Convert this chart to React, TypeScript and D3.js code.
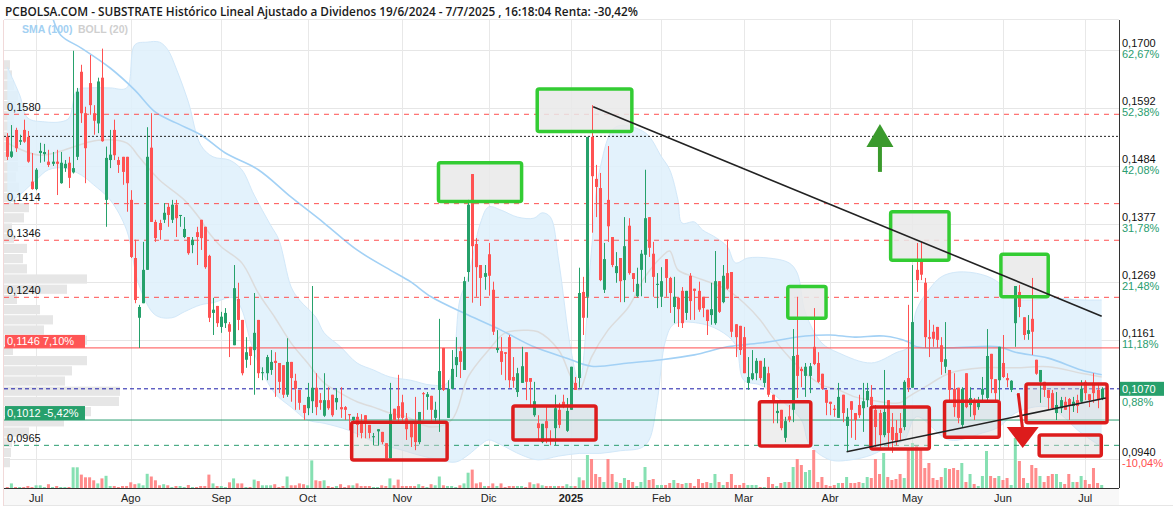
import React from 'react';
import * as d3 from 'd3';

const W = 1173;
const H = 512;
const PL = 4, PR = 1119, PT = 20, PB = 488;

// Prices x 10^4, one entry per trading session (19/6/2024 - 7/7/2025)
const opens = [1538,1501,1551,1529,1551,1538,1455,1441,1508,1506,1492,1488,1492,1452,1480,1490,1472,1501,1659,1582,1638,1582,1563,1648,1421,1495,1551,1495,1501,1501,1421,1313,1202,1229,1291,1518,1380,1378,1384,1408,1384,1412,1391,1352,1352,
1337,1361,1384,1371,1317,1211,1224,1185,1192,1190,1151,1237,1198,1124,1148,1142,1198,1099,1099,1105,1122,1118,1114,1059,1120,1085,1068,1040,1034,1047,1072,1049,1020,1049,1059,1045,1036,1036,1023,1012,1018,1008,1021,1003,980,991,990,969,941,1033,1038,1045,1015,
1006,1006,971,1062,1055,1057,1016,1068,1146,1016,1070,1114,1140,1105,1287,1469,1339,1300,1278,1320,1254,1142,1140,1138,1166,1092,1064,1081,1138,1090,1021,1006,971,1010,977,997,1031,1046,992,1031,1081,1090,1250,
1241,1538,1460,1443,1254,1421,1352,1285,1313,1272,1373,1285,1242,1291,1319,1389,1321,1263,1241,1311,1276,1222,1239,1252,1211,1280,1256,1252,1241,1217,1207,1192,1270,1231,1285,1287,1190,1187,1166,1081,1088,1099,
1122,1081,1099,1059,1025,1031,979,1019,1031,1133,1107,1094,1094,1148,1118,1098,1068,1046,1033,1016,1059,1001,1047,1025,1040,1034,1049,1055,
1031,1025,984,1049,999,988,997,999,1090,1072,1291,1306,1267,1166,1176,1185,1151,1111,1105,1070,1072,1003,1099,1040,1044,1036,1059,1053,1135,1088,1086,1118,1090,1068,1192,1250,1203,1172,1200,1124,1083,1083,1068,1062,1025,1034,1046,1051,1038,1049,1046,1083,1060,1081,1068,1051];
const highs = [1545,1560,1555,1542,1570,1549,1508,1480,1527,1525,1514,1510,1514,1510,1495,1501,1698,1629,1672,1594,1690,1597,1648,1702,1520,1551,1570,1501,1501,1501,1439,1347,1226,1343,1556,1582,1384,1384,1415,1415,1421,1421,1393,1389,1352,
1352,1371,1384,1371,1319,1239,1224,1213,1220,1194,1300,1267,1198,1166,1148,1248,1198,1110,1133,1142,1138,1118,1114,1164,1120,1098,1068,1040,1081,1261,1099,1062,1099,1073,1059,1071,1073,1038,1023,1018,1025,1023,1021,1003,988,995,990,969,1081,1033,1096,1059,1025,
1006,1055,1027,1064,1064,1057,1046,1200,1146,1086,1142,1166,1148,1278,1421,1469,1350,1300,1300,1341,1269,1179,1166,1138,1170,1129,1109,1148,1138,1090,1083,1021,1005,1036,993,1059,1044,1059,1053,1111,1092,1295,1278,
1538,1597,1486,1471,1341,1521,1352,1324,1313,1389,1387,1285,1295,1328,1477,1389,1343,1285,1296,1311,1278,1278,1239,1259,1252,1285,1256,1269,1241,1217,1267,1326,1270,1300,1347,1287,1190,1187,1185,1129,1142,1127,
1122,1127,1111,1059,1049,1031,1018,1040,1181,1241,1111,1118,1118,1220,1138,1098,1068,1046,1040,1081,1059,1034,1047,1025,1059,1081,1081,1077,
1040,1031,1105,1049,1025,1012,1025,1086,1226,1300,1341,1343,1276,1198,1189,1185,1166,1194,1105,1099,1072,1073,1099,1073,1053,1055,1092,1181,1135,1088,1148,1170,1099,1086,1261,1263,1203,1207,1276,1124,1105,1083,1068,1068,1064,1055,1055,1053,1055,1059,1086,1086,1060,1099,1081,1073];
const lows = [1495,1499,1510,1523,1527,1490,1440,1439,1490,1492,1482,1484,1430,1451,1473,1443,1470,1495,1564,1452,1579,1542,1545,1529,1371,1480,1495,1471,1449,1399,1313,1229,1146,1229,1291,1380,1343,1347,1378,1371,1378,1352,1371,1350,1319,
1322,1300,1328,1293,1194,1170,1185,1174,1183,1129,1151,1179,1095,1109,1114,1059,1090,1086,1086,1096,1055,1062,1053,1055,1046,1031,1031,1012,1021,1025,1021,1031,1018,1031,1018,1031,1016,1012,993,1006,980,978,978,978,965,965,967,941,941,1012,1008,1006,975,
962,956,967,1012,1031,1006,1006,990,1066,1016,1070,1092,1090,1105,1269,1230,1241,1224,1254,1243,1170,1137,1096,1086,1072,1072,1055,1081,1049,1036,1018,975,969,969,965,965,997,1034,990,1031,1068,1072,1170,
1202,1360,1389,1270,1248,1343,1296,1267,1231,1231,1282,1250,1240,1242,1267,1315,1241,1220,1222,1241,1211,1192,1185,1183,1198,1198,1198,1213,1203,1170,1189,1189,1211,1229,1254,1166,1129,1133,1099,1068,1086,1086,
1086,1073,1055,1006,1006,993,971,1008,1008,1053,1073,1055,1062,1114,1081,1068,1021,1021,1018,1016,1008,953,979,975,1016,990,1036,1021,
962,960,980,960,951,965,975,993,1064,1072,1250,1272,1146,1129,1148,1146,1096,1099,1044,1018,1006,999,1034,1018,1012,1031,1044,1049,1062,1049,1049,1090,1073,1064,1148,1203,1161,1161,1133,1096,1044,1055,1031,1031,1012,1025,1031,1012,1027,1025,1044,1049,1036,1044,1034,1049];
const closes = [1501,1511,1517,1532,1529,1492,1441,1477,1512,1510,1486,1492,1488,1490,1488,1462,1480,1622,1582,1517,1597,1568,1641,1530,1499,1505,1504,1486,1473,1452,1315,1235,1222,1291,1501,1380,1350,1365,1397,1393,1412,1387,1393,1367,1322,
1347,1352,1350,1296,1202,1217,1192,1204,1211,1176,1257,1198,1099,1138,1131,1174,1099,1101,1129,1120,1118,1083,1059,1120,1090,1070,1044,1025,1055,1072,1036,1044,1049,1034,1021,1053,1032,1031,1021,1018,1003,988,1006,988,982,995,971,941,1023,1012,1016,1016,995,
980,971,1027,1060,1060,1031,1031,1103,1068,1070,1107,1129,1120,1270,1412,1335,1296,1276,1285,1280,1176,1146,1120,1135,1086,1085,1099,1112,1083,1083,1047,997,1005,997,975,1034,1003,1036,1029,1111,1068,1248,1202,
1538,1465,1445,1272,1311,1372,1300,1298,1270,1335,1285,1274,1265,1321,1387,1332,1278,1265,1270,1276,1248,1241,1218,1192,1252,1233,1252,1217,1220,1196,1218,1270,1213,1280,1256,1176,1166,1142,1099,1092,1099,1122,
1090,1111,1059,1046,1029,997,1010,1012,1131,1094,1103,1111,1112,1116,1083,1070,1044,1042,1031,1055,1025,1018,1031,1012,1021,1047,1066,1040,
999,984,1027,988,975,971,988,1083,1072,1194,1272,1282,1166,1163,1163,1161,1120,1125,1068,1036,1016,1070,1036,1053,1021,1046,1070,1131,1088,1062,1148,1092,1086,1085,1261,1222,1170,1179,1176,1098,1105,1068,1053,1034,1040,1049,1031,1040,1046,1038,1070,1062,1049,1062,1049,1070];
const volumes = [1,4.6,1,1,1,2,1,2.7,2.7,1,3.8,1,2,1,1,1,20.7,20.7,13.4,10.7,10.7,7.7,4.6,9.6,12.2,2,2,1,2,2,5.7,3.8,4.6,2.7,14.2,11.5,7.7,2.7,3.8,2.7,1,2,2,1,3,1,1,2,2,13.4,
4.6,2,2,1,5.7,9.6,4.6,4.6,1,1,8.4,6.9,2.7,2.7,2.7,3.8,1,2,11.5,2.7,2.7,4.6,3.8,2.7,27.6,7.7,6.9,7.7,2,1,2,3.8,1,2.7,2.7,4.6,2,2,2,1,1,2.7,2,9.6,2.7,8.4,2,2,2,2,
3.8,2,1,3.8,2.7,11.5,2.7,2,2,1,2.7,4.6,15.3,18.4,4.6,5.7,2,2,4.6,2,4.6,1,2,2,2,2,1,5.7,3.8,4.6,2.7,2,2,2,2,2,3.8,2,2,10.7,7.7,33,29,14,11,6,29,14,6,5,
10,8,6,2,6,21,8,9,3,3,3,5,8,5,4,5,5,2,9,5,6,5,14,6,3,6,14,3,3,5,3,3,3,1,1,11,4,2,5,6,6,21,29,23,16,18,38,6,11,3,
2,3,5,5,11,5,5,6,5,11,10,29,14,35,11,8,9,14,10,40,45,42,40,20,25,10,8,11,20,19,20,18,25,6,14,4,2,12,37,12,10,12,8,10,3,50,27,10,5,23,
20,12,6,12,14,14,6,4,14,6,6,12,8,4,20,5,3];

// Indicator readings [session index, price x 10^4]
const smaPts = [[11,1760],[13,1727],[18,1703],[25,1666],[31,1625],[36,1584],[41,1564],[47,1542],[53,1508],[61,1477],[69,1426],[77,1378],[85,1328],[93,1291],[98,1269],[103,1241],[112,1207],[120,1179],[128,1148],[136,1127],[142,1112],[151,1118],[159,1124],[167,1133],[175,1148],[183,1155],[194,1168],[200,1170],[206,1166],[213,1168],[219,1157],[221,1148],[229,1146],[241,1148],[245,1138],[253,1127],[261,1105],[266,1096]];
const bbUpperPts = [[0,1668],[3,1616],[5,1573],[9,1566],[13,1566],[15,1573],[17,1625],[20,1629],[25,1629],[29,1629],[31,1709],[34,1714],[37,1714],[39,1700],[41,1666],[44,1603],[47,1523],[50,1501],[54,1495],[57,1477],[60,1430],[64,1374],[66,1347],[69,1259],[71,1235],[75,1203],[77,1174],[81,1148],[85,1118],[89,1105],[93,1092],[98,1086],[103,1077],[107,1081],[110,1235],[112,1278],[115,1378],[117,1408],[120,1402],[124,1389],[128,1387],[130,1397],[132,1389],[134,1309],[137,1142],[139,1081],[142,1328],[144,1477],[148,1557],[155,1546],[159,1501],[161,1477],[163,1421],[164,1378],[167,1380],[169,1365],[172,1352],[175,1334],[177,1304],[180,1313],[185,1313],[190,1304],[192,1285],[194,1211],[198,1155],[202,1137],[210,1118],[216,1137],[219,1148],[221,1217],[224,1254],[227,1278],[231,1287],[237,1282],[241,1267],[244,1239],[249,1235],[253,1239],[261,1235],[266,1235]];
const bbLowerPts = [[0,1412],[3,1430],[7,1458],[10,1477],[14,1480],[18,1467],[21,1449],[25,1421],[29,1365],[32,1263],[36,1207],[40,1202],[43,1213],[47,1226],[50,1230],[55,1239],[57,1217],[59,1161],[61,1118],[65,1062],[69,1036],[73,1012],[77,1006],[83,993],[90,969],[96,956],[100,947],[105,938],[109,934],[112,947],[115,966],[117,975],[120,966],[125,947],[129,938],[134,945],[139,950],[144,950],[149,955],[154,960],[156,975],[158,1049],[160,1160],[162,1190],[168,1192],[173,1179],[177,1152],[179,1086],[183,1077],[188,1049],[193,1012],[195,966],[200,938],[205,938],[210,947],[215,966],[218,975],[221,1018],[229,975],[237,988],[241,999],[245,1025],[253,1036],[261,988],[266,962]];
const bbMidPts = [[0,1527],[8,1504],[22,1532],[29,1527],[32,1501],[37,1458],[43,1421],[47,1384],[49,1360],[52,1334],[57,1304],[61,1248],[65,1203],[69,1155],[73,1118],[77,1081],[81,1062],[85,1046],[89,1036],[93,1025],[97,1018],[103,999],[108,1012],[112,1092],[117,1142],[121,1174],[126,1179],[129,1176],[134,1142],[137,1092],[139,1068],[142,1129],[146,1179],[151,1222],[155,1278],[159,1315],[161,1326],[163,1291],[167,1278],[171,1267],[175,1254],[179,1230],[183,1198],[186,1166],[190,1129],[194,1099],[198,1077],[202,1068],[206,1055],[210,1049],[217,1044],[219,1055],[223,1073],[229,1099],[237,1109],[245,1109],[253,1111],[261,1099],[266,1092]];

// Volume-by-price profile, top bin first
const profileTop = 0.16814;
const profileStep = 0.001895;
const profileVol = [6,8,10,14,12,10,10,10,12,14,14,12,15,10,25,20,8,10,23,19,23,83,63,13,36,49,40,83,9,83,68,61,116,115,87,60,25,8,7,6];

// Axis ticks
const monthIdx = [7,30,52,73,96,117,137,159,179,200,220,242,262];
const monthLabels = ['Jul','Ago','Sep','Oct','Nov','Dic','2025','Feb','Mar','Abr','May','Jun','Jul'];
const priceTicks = [0.1700,0.1592,0.1484,0.1377,0.1269,0.1161,0.0940];
const pctLabels = ['62,67%','52,38%','42,08%','31,78%','21,48%','11,18%','-10,04%'];

// Levels
const redDashLevels = [0.1580,0.1414,0.1346,0.1240];
const greenDashLevel = 0.0965;
const resistLevel = 0.1146; const resistPct = '7,10%';
const supportLevel = 0.1012; const supportPct = '-5,42%';
const dottedLevel = 0.1539;
const lastPrice = 0.1070; const lastPct = '0,88%';

// Drawn annotations (session index, price)
const greenBoxes = [[104.8,125,0.1490,0.1418],[128.8,151.8,0.1627,0.1548],[189.7,199,0.1260,0.1201],[214.7,228.9,0.1399,0.1309],[241.5,253,0.1320,0.1241]];
const redBoxes = [[83.7,106.9,0.1008,0.0938],[122.9,143.1,0.1038,0.0975],[182.8,195.3,0.1046,0.0964],[209.9,224.1,0.1036,0.0958],[227.8,241.1,0.1047,0.0980],[247.6,267.3,0.1079,0.1007],[250.8,265.9,0.0984,0.0945]];
const trendLines = [[142.4,0.1594,266,0.1205],[204,0.0953,267,0.1053]];
const upArrow = { i: 212.1, top: 0.1562, base: 0.1473 };
const downArrow = { i0: 245.7, p0: 0.1062, i1: 246.8, p1: 0.0960 };

const GREEN = '#26a16b';
const RED = '#ff5252';
const fmt = (v: number) => d3.format('.4f')(v).replace('.', ',');

export default function App() {
  const x = d3.scaleLinear().domain([0, 266]).range([7.3, 1101.7]);
  const y = d3.scaleLinear().domain([0.094, 0.17]).range([458.8, 49.7]);
  const yVol = d3.scaleLinear().domain([0, 100]).range([PB, PB - 100]);
  const wProf = d3.scaleLinear().domain([0, 116]).range([0, 116]);

  const toXY = (pts: number[][]) => pts.map(([i, v]) => [x(i), y(v / 10000)] as [number, number]);
  const line = d3.line().curve(d3.curveCatmullRom.alpha(0.5));
  const upPath = line(toXY(bbUpperPts)) || '';
  const loPath = line(toXY(bbLowerPts).slice().reverse()) || '';
  const bandPath = upPath + 'L' + loPath.slice(1) + 'Z';

  const font = '"Liberation Sans", Arial, sans-serif';

  return (
    <svg width={W} height={H} style={{ position: 'absolute', left: 0, top: 0, background: '#fff' }} fontFamily={font}>
      <defs>
        <clipPath id="plot"><rect x={PL} y={PT} width={PR - PL} height={PB - PT} /></clipPath>
      </defs>
      <rect x={0} y={0} width={W} height={H} fill="#fff" />
      {/* title */}
      <text x={5} y={16} fontFamily='"Open Sans", sans-serif' fontSize={12.5} fontWeight={600} fill="#1a1a1a" textLength={633} lengthAdjust="spacingAndGlyphs">
        PCBOLSA.COM - SUBSTRATE Histórico Lineal Ajustado a Dividenos 19/6/2024 - 7/7/2025 , 16:18:04 Renta: -30,42%
      </text>
      {/* x-axis band */}
      <rect x={PL} y={PB} width={PR - PL} height={17} fill="#f8f8f8" />
      <line x1={PL} x2={W} y1={505.5} y2={505.5} stroke="#e6e6e6" />
      <line x1={3.5} x2={3.5} y1={PT} y2={506} stroke="#f1d9d9" />
      <line x1={PL} x2={PR} y1={PT - 0.5} y2={PT - 0.5} stroke="#e8e8e8" />
      <g clipPath="url(#plot)">
        {/* grid */}
        {priceTicks.map((t, k) => (
          <line key={'hg' + k} x1={PL} x2={PR} y1={Math.round(y(t)) + 0.5} y2={Math.round(y(t)) + 0.5} stroke="#e6e6e6" />
        ))}
        {monthIdx.map((m, k) => (
          <line key={'vg' + k} x1={Math.round(x(m)) + 0.5} x2={Math.round(x(m)) + 0.5} y1={PT} y2={PB} stroke="#e8e8e8" />
        ))}
        {/* volume profile */}
        {profileVol.map((v, k) => {
          const pHi = profileTop - k * profileStep;
          const pLo = pHi - profileStep;
          return <rect key={'pf' + k} x={PL} y={y(pHi) + 0.5} width={wProf(v)} height={y(pLo) - y(pHi) - 1} fill="#e6e6e6" />;
        })}
        {/* bollinger band */}
        <path d={bandPath} fill="#def0fc" fillOpacity={0.85} stroke="none" />
        <path d={upPath} fill="none" stroke="#d2e8f9" strokeWidth={1} />
        <path d={line(toXY(bbLowerPts)) || ''} fill="none" stroke="#d2e8f9" strokeWidth={1} />
        <path d={line(toXY(bbMidPts)) || ''} fill="none" stroke="#dcdcdc" strokeWidth={1.5} />
        <path d={line(toXY(smaPts)) || ''} fill="none" stroke="#a3d1f5" strokeWidth={1.6} />
        {/* volume bars */}
        {volumes.map((v, i) => (
          <rect key={'v' + i} x={x(i) - 1.5} y={yVol(v)} width={3} height={PB - yVol(v)} fill={closes[i] >= opens[i] ? '#86e0b2' : '#ff8c8c'} />
        ))}
        {/* levels */}
        {redDashLevels.map((l, k) => (
          <line key={'rd' + k} x1={PL} x2={PR} y1={y(l)} y2={y(l)} stroke="#ff5050" strokeDasharray="5,5" />
        ))}
        <line x1={PL} x2={PR} y1={y(greenDashLevel)} y2={y(greenDashLevel)} stroke="#2a9d6f" strokeDasharray="5,5" />
        <line x1={PL} x2={PR} y1={y(dottedLevel)} y2={y(dottedLevel)} stroke="#222" strokeDasharray="2,2" />
        <line x1={PL} x2={PR} y1={y(resistLevel)} y2={y(resistLevel)} stroke="#ff4d4d" />
        <line x1={PL} x2={PR} y1={y(supportLevel)} y2={y(supportLevel)} stroke="#2a9d6f" />
        <line x1={PL} x2={PR} y1={y(lastPrice)} y2={y(lastPrice)} stroke="#1a1aa8" strokeDasharray="4,3" />
        {/* annotation fills */}
        {greenBoxes.map(([i0, i1, ph, pl], k) => (
          <rect key={'gf' + k} x={x(i0)} y={y(ph)} width={x(i1) - x(i0)} height={y(pl) - y(ph)} fill="#e9e9e9" fillOpacity={0.85} />
        ))}
        {redBoxes.map(([i0, i1, ph, pl], k) => (
          <rect key={'rf' + k} x={x(i0)} y={y(ph)} width={x(i1) - x(i0)} height={y(pl) - y(ph)} fill="#d9d9d9" fillOpacity={0.45} />
        ))}
        {/* candles */}
        {closes.map((c, i) => {
          const o = opens[i] / 10000, cc = c / 10000, hi = highs[i] / 10000, lo = lows[i] / 10000;
          const col = cc >= o ? GREEN : RED;
          const cx = Math.round(x(i)) + 0.5;
          const top = y(Math.max(o, cc));
          const h = Math.max(1, Math.abs(y(o) - y(cc)));
          return (
            <g key={'c' + i}>
              <line x1={cx} x2={cx} y1={y(hi)} y2={y(lo)} stroke={col} strokeWidth={1} />
              <rect x={cx - 1.5} y={top} width={3} height={h} fill={col} />
            </g>
          );
        })}
        {/* annotation strokes */}
        {greenBoxes.map(([i0, i1, ph, pl], k) => (
          <rect key={'gs' + k} x={x(i0)} y={y(ph)} width={x(i1) - x(i0)} height={y(pl) - y(ph)} fill="none" stroke="#33cc33" strokeWidth={3.5} rx={2} />
        ))}
        {redBoxes.map(([i0, i1, ph, pl], k) => (
          <rect key={'rs' + k} x={x(i0)} y={y(ph)} width={x(i1) - x(i0)} height={y(pl) - y(ph)} fill="none" stroke="#dd1c1c" strokeWidth={3.5} rx={2} />
        ))}
        {trendLines.map(([i0, p0, i1, p1], k) => (
          <line key={'tl' + k} x1={x(i0)} y1={y(p0)} x2={x(i1)} y2={y(p1)} stroke="#222" strokeWidth={1.6} />
        ))}
        {/* up arrow */}
        <line x1={x(upArrow.i)} x2={x(upArrow.i)} y1={y(upArrow.base)} y2={y(upArrow.top) + 20} stroke="#3a9a2c" strokeWidth={4} />
        <path d={`M${x(upArrow.i)},${y(upArrow.top)} L${x(upArrow.i) + 13.5},${y(upArrow.top) + 23} L${x(upArrow.i) - 13.5},${y(upArrow.top) + 23} Z`} fill="#3a9a2c" />
        {/* down arrow */}
        <line x1={x(downArrow.i0)} y1={y(downArrow.p0)} x2={x(downArrow.i1)} y2={y(downArrow.p1) - 18} stroke="#dd1c1c" strokeWidth={3} />
        <path d={`M${x(downArrow.i1)},${y(downArrow.p1)} L${x(downArrow.i1) + 16},${y(downArrow.p1) - 21} L${x(downArrow.i1) - 16},${y(downArrow.p1) - 21} Z`} fill="#dd1c1c" />
        {/* level labels */}
        {redDashLevels.map((l, k) => (
          <text key={'rl' + k} x={7} y={y(l) - 3} fontSize={11} fill="#111">{fmt(l)}</text>
        ))}
        <text x={7} y={y(greenDashLevel) - 3} fontSize={11} fill="#111">{fmt(greenDashLevel)}</text>
        <rect x={5} y={y(resistLevel) - 13} width={80} height={13} fill="#ff5555" />
        <text x={7} y={y(resistLevel) - 2.5} fontSize={11} fill="#fff">{fmt(resistLevel) + '  ' + resistPct}</text>
        <rect x={5} y={y(supportLevel) - 14} width={80} height={14} fill="#27a06c" />
        <text x={7} y={y(supportLevel) - 3} fontSize={11} fill="#fff">{fmt(supportLevel) + '  ' + supportPct}</text>
        {/* legend */}
        <text x={22} y={33} fontSize={10.5} fontWeight={700} fill="#a3d0f2">SMA (100)</text>
        <text x={78} y={33} fontSize={10.5} fontWeight={700} fill="#cfcfcf">BOLL (20)</text>
      </g>
      {/* axes */}
      <line x1={PR + 0.5} x2={PR + 0.5} y1={PT} y2={PB} stroke="#333" />
      <line x1={PL} x2={PR} y1={PB + 0.5} y2={PB + 0.5} stroke="#333" />
      {priceTicks.map((t, k) => (
        <g key={'pt' + k}>
          <text x={1122} y={y(t) - 2.7} fontSize={11} fill="#111">{fmt(t)}</text>
          <text x={1122} y={y(t) + 8.3} fontSize={11} fill={pctLabels[k].startsWith('-') ? '#ff4d4d' : '#2a9d6f'}>{pctLabels[k]}</text>
        </g>
      ))}
      <rect x={1120} y={y(lastPrice) - 7} width={44} height={14} fill="#27a06c" />
      <text x={1122} y={y(lastPrice) + 4} fontSize={11} fill="#fff">{fmt(lastPrice)}</text>
      <text x={1122} y={y(lastPrice) + 17} fontSize={11} fill="#2a9d6f">{lastPct}</text>
      {monthIdx.map((m, k) => (
        <text key={'ml' + k} x={x(m)} y={502} fontSize={11} textAnchor="middle" fill="#222" fontWeight={monthLabels[k] === '2025' ? 700 : 400}>
          {monthLabels[k]}
        </text>
      ))}
    </svg>
  );
}
